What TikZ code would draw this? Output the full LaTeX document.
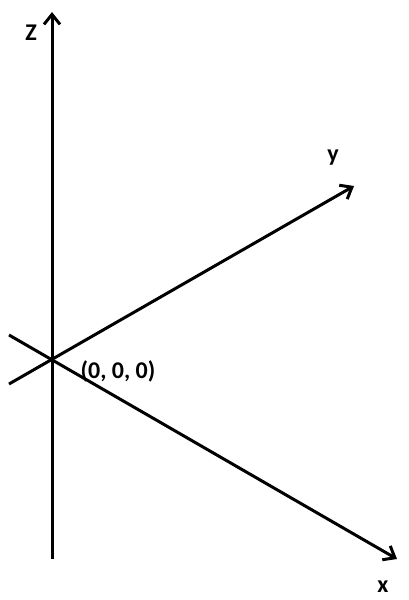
\documentclass[tikz,border=0pt]{standalone}
\usepackage{fontspec}
\setmainfont{Carlito}
\usetikzlibrary{arrows.meta}
\begin{document}
\begin{tikzpicture}[x=1pt,y=-1pt,
  axis/.style={line width=3pt,-{Straight Barb[length=10pt,width=16pt,line width=3pt]}},
  lbl/.style={font=\fontsize{24}{26}\selectfont\bfseries, inner sep=0pt}]
\useasboundingbox (0,0) rectangle (408,600);
\coordinate (zb) at (52,559);
\coordinate (zt) at (52,12);
\coordinate (yb) at (9,384);
\coordinate (yt) at (354,186);
\coordinate (xb) at (9,335);
\coordinate (xt) at (397,559);
\draw[axis] (zb) -- (zt);
\draw[axis] (yb) -- (yt);
\draw[axis] (xb) -- (xt);
\node[lbl] (zl) at (31,33) {Z};
\node[lbl] (yl) at (333,158) {y};
\node[lbl] (xl) at (383,587) {x};
\node[lbl] (ol) at (118,371) {(0, 0, 0)};
\end{tikzpicture}
\end{document}
